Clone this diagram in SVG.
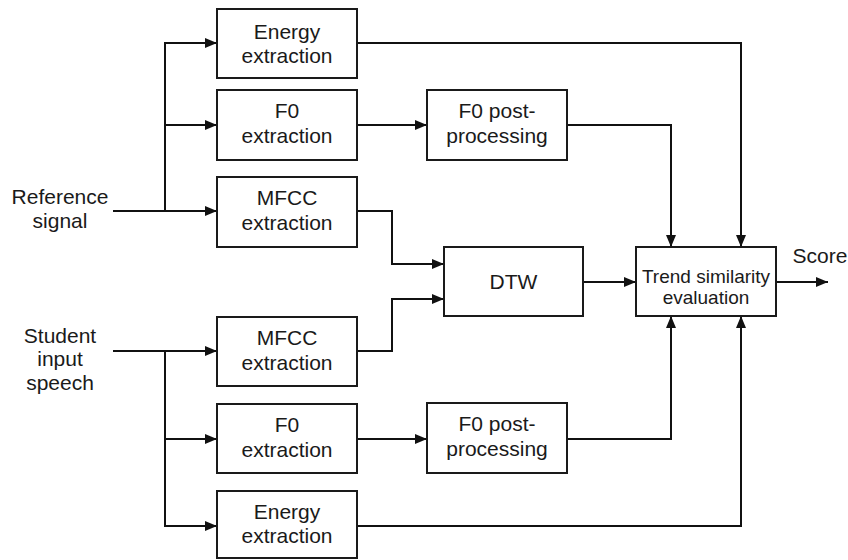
<svg xmlns="http://www.w3.org/2000/svg" width="848" height="560" viewBox="0 0 848 560">
<style>
.box{fill:#fff;stroke:#1a1a1a;stroke-width:2}
.t{font-family:"Liberation Sans",Arial,sans-serif;font-size:21px;fill:#1a1a1a;text-anchor:middle}
.ts{font-family:"Liberation Sans",Arial,sans-serif;font-size:19px;fill:#1a1a1a;text-anchor:middle}
.c{fill:none;stroke:#111;stroke-width:2;marker-end:url(#ah)}
.n{fill:none;stroke:#111;stroke-width:2}
</style>
<defs>
<marker id="ah" markerUnits="userSpaceOnUse" markerWidth="12" markerHeight="10" refX="12" refY="5" orient="auto">
<path d="M0,0 L12,5 L0,10 Z" fill="#111"/>
</marker>
</defs>
<rect width="848" height="560" fill="#fff"/>
<g id="connectors">
<path class="c" d="M113,211 H217"/>
<path class="c" d="M165,211 V43 H217"/>
<path class="c" d="M165,125 H217"/>
<path class="c" d="M357,43 H741 V247"/>
<path class="c" d="M357,125 H427"/>
<path class="c" d="M567,125 H671 V247"/>
<path class="c" d="M357,211 H392 V264 H444"/>
<path class="c" d="M357,351 H392 V299 H444"/>
<path class="c" d="M583,282 H636"/>
<path class="c" d="M776,282 H828"/>
<path class="c" d="M113,351 H217"/>
<path class="c" d="M165,351 V526 H217"/>
<path class="c" d="M165,439 H217"/>
<path class="c" d="M357,439 H427"/>
<path class="c" d="M567,439 H671 V316"/>
<path class="c" d="M357,526 H741 V316"/>
</g>
<g id="ref-label">
<text class="t" x="60" y="204">Reference</text>
<text class="t" x="60" y="228">signal</text>
</g>
<g id="student-label">
<text class="t" x="60" y="343">Student</text>
<text class="t" x="60" y="366">input</text>
<text class="t" x="60" y="390">speech</text>
</g>
<g id="score-label">
<text class="t" x="820" y="263">Score</text>
</g>
<g id="ref-energy">
<rect class="box" x="217" y="9" width="140" height="69"/>
<text class="t" x="287" y="39">Energy</text>
<text class="t" x="287" y="63">extraction</text>
</g>
<g id="ref-f0">
<rect class="box" x="217" y="90" width="140" height="70"/>
<text class="t" x="287" y="118">F0</text>
<text class="t" x="287" y="143">extraction</text>
</g>
<g id="ref-mfcc">
<rect class="box" x="217" y="177" width="140" height="70"/>
<text class="t" x="287" y="205">MFCC</text>
<text class="t" x="287" y="230">extraction</text>
</g>
<g id="ref-f0post">
<rect class="box" x="427" y="90" width="140" height="70"/>
<text class="t" x="497" y="118">F0 post-</text>
<text class="t" x="497" y="143">processing</text>
</g>
<g id="dtw">
<rect class="box" x="444" y="247" width="139" height="69"/>
<text class="t" x="513.5" y="289">DTW</text>
</g>
<g id="trend">
<rect class="box" x="636" y="247" width="140" height="69"/>
<text class="ts" x="706" y="283">Trend similarity</text>
<text class="ts" x="706" y="304">evaluation</text>
</g>
<g id="stu-mfcc">
<rect class="box" x="217" y="317" width="140" height="69"/>
<text class="t" x="287" y="345">MFCC</text>
<text class="t" x="287" y="370">extraction</text>
</g>
<g id="stu-f0">
<rect class="box" x="217" y="404" width="140" height="69"/>
<text class="t" x="287" y="432">F0</text>
<text class="t" x="287" y="457">extraction</text>
</g>
<g id="stu-f0post">
<rect class="box" x="427" y="403" width="140" height="70"/>
<text class="t" x="497" y="431">F0 post-</text>
<text class="t" x="497" y="456">processing</text>
</g>
<g id="stu-energy">
<rect class="box" x="217" y="491" width="140" height="67"/>
<text class="t" x="287" y="519">Energy</text>
<text class="t" x="287" y="543">extraction</text>
</g>
</svg>
